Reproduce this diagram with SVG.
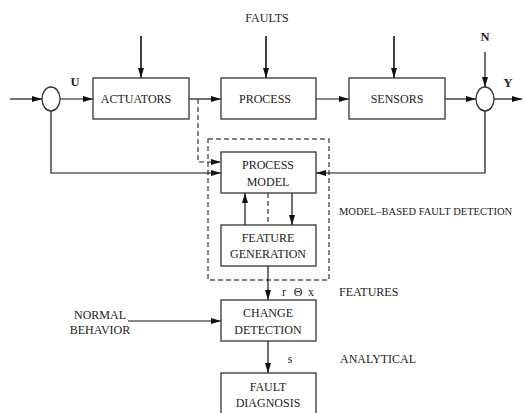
<svg xmlns="http://www.w3.org/2000/svg" width="524" height="413" viewBox="0 0 524 413" font-family="'Liberation Serif', 'DejaVu Serif', serif">
<defs>
<marker id="ah" viewBox="0 0 10 6" refX="10" refY="3" markerWidth="10" markerHeight="6" markerUnits="userSpaceOnUse" orient="auto">
<path d="M0,0 L10,3 L0,6 Z" fill="#111"/>
</marker>
</defs>
<style>
.box{fill:#fff;stroke:#333;stroke-width:1.3}
.ln{fill:none;stroke:#111;stroke-width:1.2}
.fl{fill:none;stroke:#111;stroke-width:1.6}
.dl{fill:none;stroke:#222;stroke-width:1.1;stroke-dasharray:5,3}
.dr{fill:none;stroke:#555;stroke-width:1.4;stroke-dasharray:5,3}
text{font-family:'Liberation Serif','DejaVu Serif',serif;font-size:12px;fill:#222;text-anchor:middle}
.b{font-weight:bold;font-size:12.5px}
.l{text-anchor:start}
</style>
<rect x="208" y="139" width="121" height="141" class="dr"/>
<g id="connectors">
<path class="ln" d="M10,99 H42" marker-end="url(#ah)"/>
<path class="ln" d="M60,99 H93" marker-end="url(#ah)"/>
<path class="ln" d="M189,99 H221" marker-end="url(#ah)"/>
<path class="ln" d="M316,99 H349" marker-end="url(#ah)"/>
<path class="ln" d="M445,99 H476" marker-end="url(#ah)"/>
<path class="ln" d="M494,99 H522" marker-end="url(#ah)"/>
<path class="fl" d="M141,36 V78" marker-end="url(#ah)"/>
<path class="fl" d="M266,36 V78" marker-end="url(#ah)"/>
<path class="fl" d="M394,36 V78" marker-end="url(#ah)"/>
<path class="ln" d="M485,52 V87" marker-end="url(#ah)"/>
<path class="dl" d="M198,99 V162 H221" marker-end="url(#ah)"/>
<path class="ln" d="M51,111 V173 H221" marker-end="url(#ah)"/>
<path class="ln" d="M485,111 V173 H316" marker-end="url(#ah)"/>
<path class="ln" d="M245,225 V193" marker-end="url(#ah)"/>
<path class="ln" d="M292,193 V225" marker-end="url(#ah)"/>
<path class="dl" d="M268,193 V225"/>
<path class="ln" d="M268,266 V300" marker-end="url(#ah)"/>
<path class="ln" d="M128,321 H221" marker-end="url(#ah)"/>
<path class="ln" d="M268,341 V373" marker-end="url(#ah)"/>
</g>
<g id="sum1"><ellipse cx="51" cy="99" rx="9" ry="12" class="box"/></g>
<g id="sum2"><ellipse cx="485" cy="99" rx="9" ry="12" class="box"/></g>
<g id="actuators"><rect x="93" y="78" width="96" height="41" class="box"/><text x="136" y="103">ACTUATORS</text></g>
<g id="process"><rect x="221" y="78" width="95" height="41" class="box"/><text x="265" y="103">PROCESS</text></g>
<g id="sensors"><rect x="349" y="78" width="96" height="41" class="box"/><text x="397" y="103">SENSORS</text></g>
<g id="process-model"><rect x="221" y="152" width="95" height="41" class="box"/><text x="268" y="169">PROCESS</text><text x="268" y="186">MODEL</text></g>
<g id="feature-generation"><rect x="221" y="225" width="95" height="41" class="box"/><text x="268" y="242">FEATURE</text><text x="268" y="258">GENERATION</text></g>
<g id="change-detection"><rect x="221" y="300" width="95" height="41" class="box"/><text x="268" y="317">CHANGE</text><text x="268" y="334">DETECTION</text></g>
<g id="fault-diagnosis"><rect x="221" y="373" width="95" height="45" class="box"/><text x="268" y="391">FAULT</text><text x="268" y="407">DIAGNOSIS</text></g>
<g id="labels">
<text x="267" y="22">FAULTS</text>
<text x="75" y="86" class="b">U</text>
<text x="485" y="41" class="b">N</text>
<text x="508" y="87" class="b">Y</text>
<text x="339" y="215" class="l" style="font-size:10.5px">MODEL–BASED FAULT DETECTION</text>
<text x="284" y="296">r</text>
<text x="298" y="296">Θ</text>
<text x="311" y="296">x</text>
<text x="339" y="296" class="l">FEATURES</text>
<text x="100" y="319">NORMAL</text>
<text x="100" y="334">BEHAVIOR</text>
<text x="290" y="363">s</text>
<text x="340" y="363" class="l">ANALYTICAL</text>
</g>
</svg>
